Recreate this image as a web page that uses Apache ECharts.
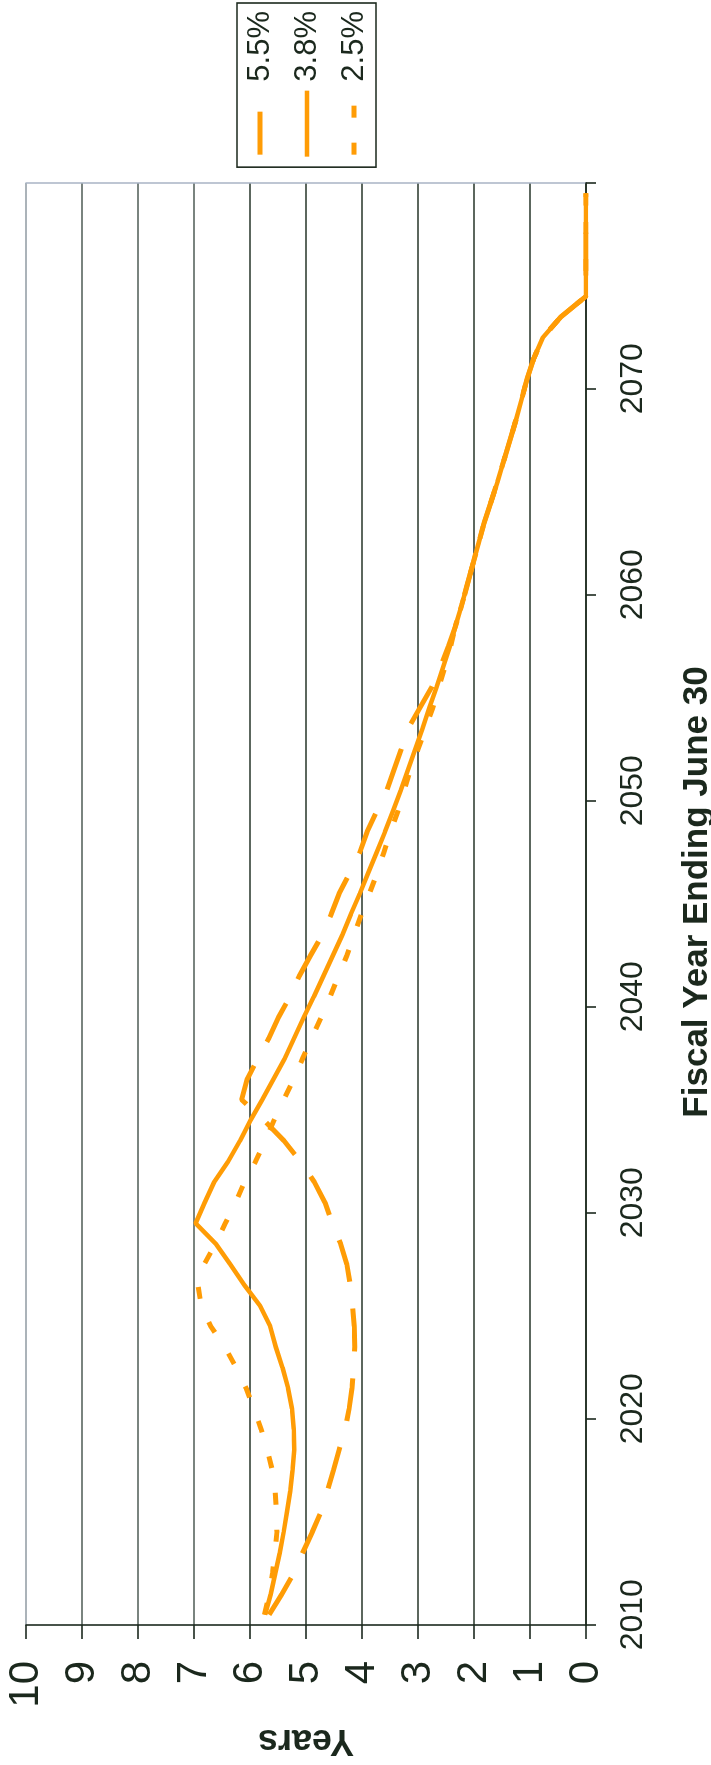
<!DOCTYPE html>
<html>
<head>
<meta charset="utf-8">
<title>Years by Fiscal Year Ending June 30</title>
<script src="https://cdn.jsdelivr.net/npm/echarts@6/dist/echarts.min.js"></script>
<style>
  html, body { margin: 0; padding: 0; background: #ffffff; overflow: hidden; }
  #page { position: relative; width: 711px; height: 1765px; overflow: hidden; background: #ffffff; }
  /* the chart is laid out landscape and turned a quarter turn counter-clockwise */
  #chart {
    position: absolute; left: 0; top: 0;
    width: 1765px; height: 711px;
    transform-origin: 0 0;
    transform: translate(0px, 1765px) rotate(-90deg);
  }
</style>
</head>
<body>
<div id="page"><div id="chart"></div></div>
<script>
// Fiscal years (ending June 30)
const years = [
  '2010','2011','2012','2013','2014','2015','2016','2017','2018','2019',
  '2020','2021','2022','2023','2024','2025','2026','2027','2028','2029',
  '2030','2031','2032','2033','2034','2035','2036','2037','2038','2039',
  '2040','2041','2042','2043','2044','2045','2046','2047','2048','2049',
  '2050','2051','2052','2053','2054','2055','2056','2057','2058','2059',
  '2060','2061','2062','2063','2064','2065','2066','2067','2068','2069',
  '2070','2071','2072','2073','2074','2075','2076','2077','2078','2079'
];

const yearTickLabels = ['2010','2020','2030','2040','2050','2060','2070'];
const valueTickLabels = ['0','1','2','3','4','5','6','7','8','9','10'];

const seriesNames = ['5.5%', '3.8%', '2.5%'];

// 5.5% scenario
const rate55 = [
  5.66,5.43,5.22,5.06,4.89,4.73,4.62,4.51,4.41,4.30,
  4.23,4.18,4.15,4.13,4.14,4.17,4.21,4.27,4.38,4.53,
  4.66,4.85,5.10,5.39,5.75,6.15,6.05,5.86,5.66,5.49,
  5.29,5.12,4.92,4.71,4.55,4.41,4.22,4.04,3.91,3.74,
  3.56,3.43,3.30,3.18,2.97,2.76,2.60,2.46,2.33,2.22,
  2.12,2.02,1.92,1.82,1.70,1.58,1.47,1.36,1.25,1.15,
  1.05,0.93,0.77,0.45,0,0,0,0,0,0
];

// 3.8% scenario
const rate38 = [
  5.73,5.63,5.55,5.47,5.40,5.34,5.28,5.24,5.21,5.22,
  5.25,5.32,5.42,5.54,5.64,5.82,6.10,6.35,6.61,6.97,
  6.81,6.64,6.39,6.18,5.99,5.78,5.58,5.38,5.21,5.04,
  4.86,4.69,4.52,4.35,4.20,4.04,3.89,3.74,3.59,3.45,
  3.31,3.18,3.05,2.92,2.80,2.67,2.55,2.43,2.33,2.22,
  2.12,2.02,1.92,1.82,1.70,1.58,1.47,1.36,1.25,1.15,
  1.05,0.93,0.77,0.45,0,0,0,0,0,0
];

// 2.5% scenario
const rate25 = [
  5.74,5.66,5.60,5.55,5.52,5.53,5.55,5.60,5.69,5.80,
  5.93,6.07,6.25,6.45,6.70,6.87,6.93,6.82,6.62,6.44,
  6.26,6.10,5.90,5.73,5.57,5.40,5.22,5.06,4.90,4.73,
  4.57,4.42,4.27,4.14,4.01,3.87,3.73,3.61,3.49,3.36,
  3.25,3.14,3.00,2.87,2.74,2.63,2.52,2.42,2.33,2.22,
  2.12,2.02,1.92,1.82,1.70,1.58,1.47,1.36,1.25,1.15,
  1.05,0.93,0.77,0.45,0,0,0,0,0,0
];

const FONT = '"Liberation Sans", Arial, Helvetica, sans-serif';
const INK = '#1b281d';
const RULE = '#263529';
const RULE_LIGHT = '#4e5b55';
const ORANGE = '#FF9C05';

const DASH_LONG = [43, 27];
const DASH_SQUARE = [12, 25];

const chart = echarts.init(document.getElementById('chart'), null, {
  renderer: 'canvas', width: 1765, height: 711
});

chart.setOption({
  animation: false,
  backgroundColor: '#ffffff',
  textStyle: { fontFamily: FONT, color: INK },
  grid: { left: 140, right: 183, top: 26, bottom: 125, containLabel: false, outerBoundsMode: 'none' },
  legend: {
    orient: 'vertical',
    right: 3,
    top: 237,
    padding: [6, 8, 5, 8],
    itemGap: 13,
    itemWidth: 66,
    itemHeight: 14,
    borderColor: INK,
    borderWidth: 1.6,
    backgroundColor: '#ffffff',
    itemStyle: { opacity: 0 },
    textStyle: { fontFamily: FONT, fontSize: 31, color: INK, lineHeight: 34, padding: [0, 0, 0, 4] },
    data: [
      { name: seriesNames[0], lineStyle: { color: ORANGE, width: 5, type: DASH_LONG, dashOffset: -2 } },
      { name: seriesNames[1], lineStyle: { color: ORANGE, width: 4.5, type: 'solid' } },
      { name: seriesNames[2], lineStyle: { color: ORANGE, width: 5, type: DASH_SQUARE, dashOffset: -2 } }
    ]
  },
  xAxis: {
    type: 'category',
    data: years,
    boundaryGap: true,
    name: 'Fiscal Year Ending June 30',
    nameLocation: 'middle',
    nameGap: 94,
    nameTextStyle: { fontFamily: FONT, fontSize: 35, fontWeight: 'bold', color: INK, padding: [0, 0, 0, 24] },
    axisLine: { show: true, lineStyle: { color: INK, width: 1.6 } },
    axisTick: { show: true, interval: 9, length: 10, inside: false, lineStyle: { color: INK, width: 1.6 } },
    axisLabel: {
      interval: 9, fontFamily: FONT, fontSize: 32, color: INK, margin: 31,
      formatter: (v) => (yearTickLabels.indexOf(v) >= 0 ? v : '')
    },
    splitLine: { show: false }
  },
  yAxis: [
    {
      type: 'value',
      min: 0, max: 10, interval: 1,
      position: 'left',
      name: 'Years',
      nameLocation: 'middle',
      nameRotate: 90,
      nameGap: 97,
      nameTextStyle: { fontFamily: FONT, fontSize: 36, fontWeight: 'bold', color: INK },
      axisLine: { show: true, lineStyle: { color: INK, width: 1.6 } },
      axisTick: { show: true, length: 14, inside: false, lineStyle: { color: INK, width: 1.6 } },
      axisLabel: {
        fontFamily: FONT, fontSize: 42, color: INK, margin: 36,
        formatter: (v) => valueTickLabels[Math.round(v)]
      },
      splitLine: {
        show: true,
        lineStyle: {
          width: 1.6,
          color: [RULE, RULE, RULE, RULE, RULE, RULE, RULE, RULE_LIGHT, RULE_LIGHT, RULE_LIGHT, '#8f9aa2']
        }
      }
    },
    {
      type: 'value',
      min: 0, max: 10, interval: 1,
      position: 'right',
      axisLine: { show: true, lineStyle: { color: '#a9b3c4', width: 1.5 } },
      axisTick: { show: false },
      axisLabel: { show: false },
      splitLine: { show: false }
    }
  ],
  series: [
    {
      name: seriesNames[0], type: 'line', data: rate55, yAxisIndex: 0,
      symbol: 'none', smooth: false,
      lineStyle: { color: ORANGE, width: 5, type: DASH_LONG, cap: 'butt' },
      itemStyle: { color: ORANGE }
    },
    {
      name: seriesNames[1], type: 'line', data: rate38, yAxisIndex: 0,
      symbol: 'none', smooth: false,
      lineStyle: { color: ORANGE, width: 4.5, type: 'solid' },
      itemStyle: { color: ORANGE }
    },
    {
      name: seriesNames[2], type: 'line', data: rate25, yAxisIndex: 0,
      symbol: 'none', smooth: false,
      lineStyle: { color: ORANGE, width: 5, type: DASH_SQUARE, cap: 'butt' },
      itemStyle: { color: ORANGE }
    }
  ]
});
</script>
</body>
</html>
